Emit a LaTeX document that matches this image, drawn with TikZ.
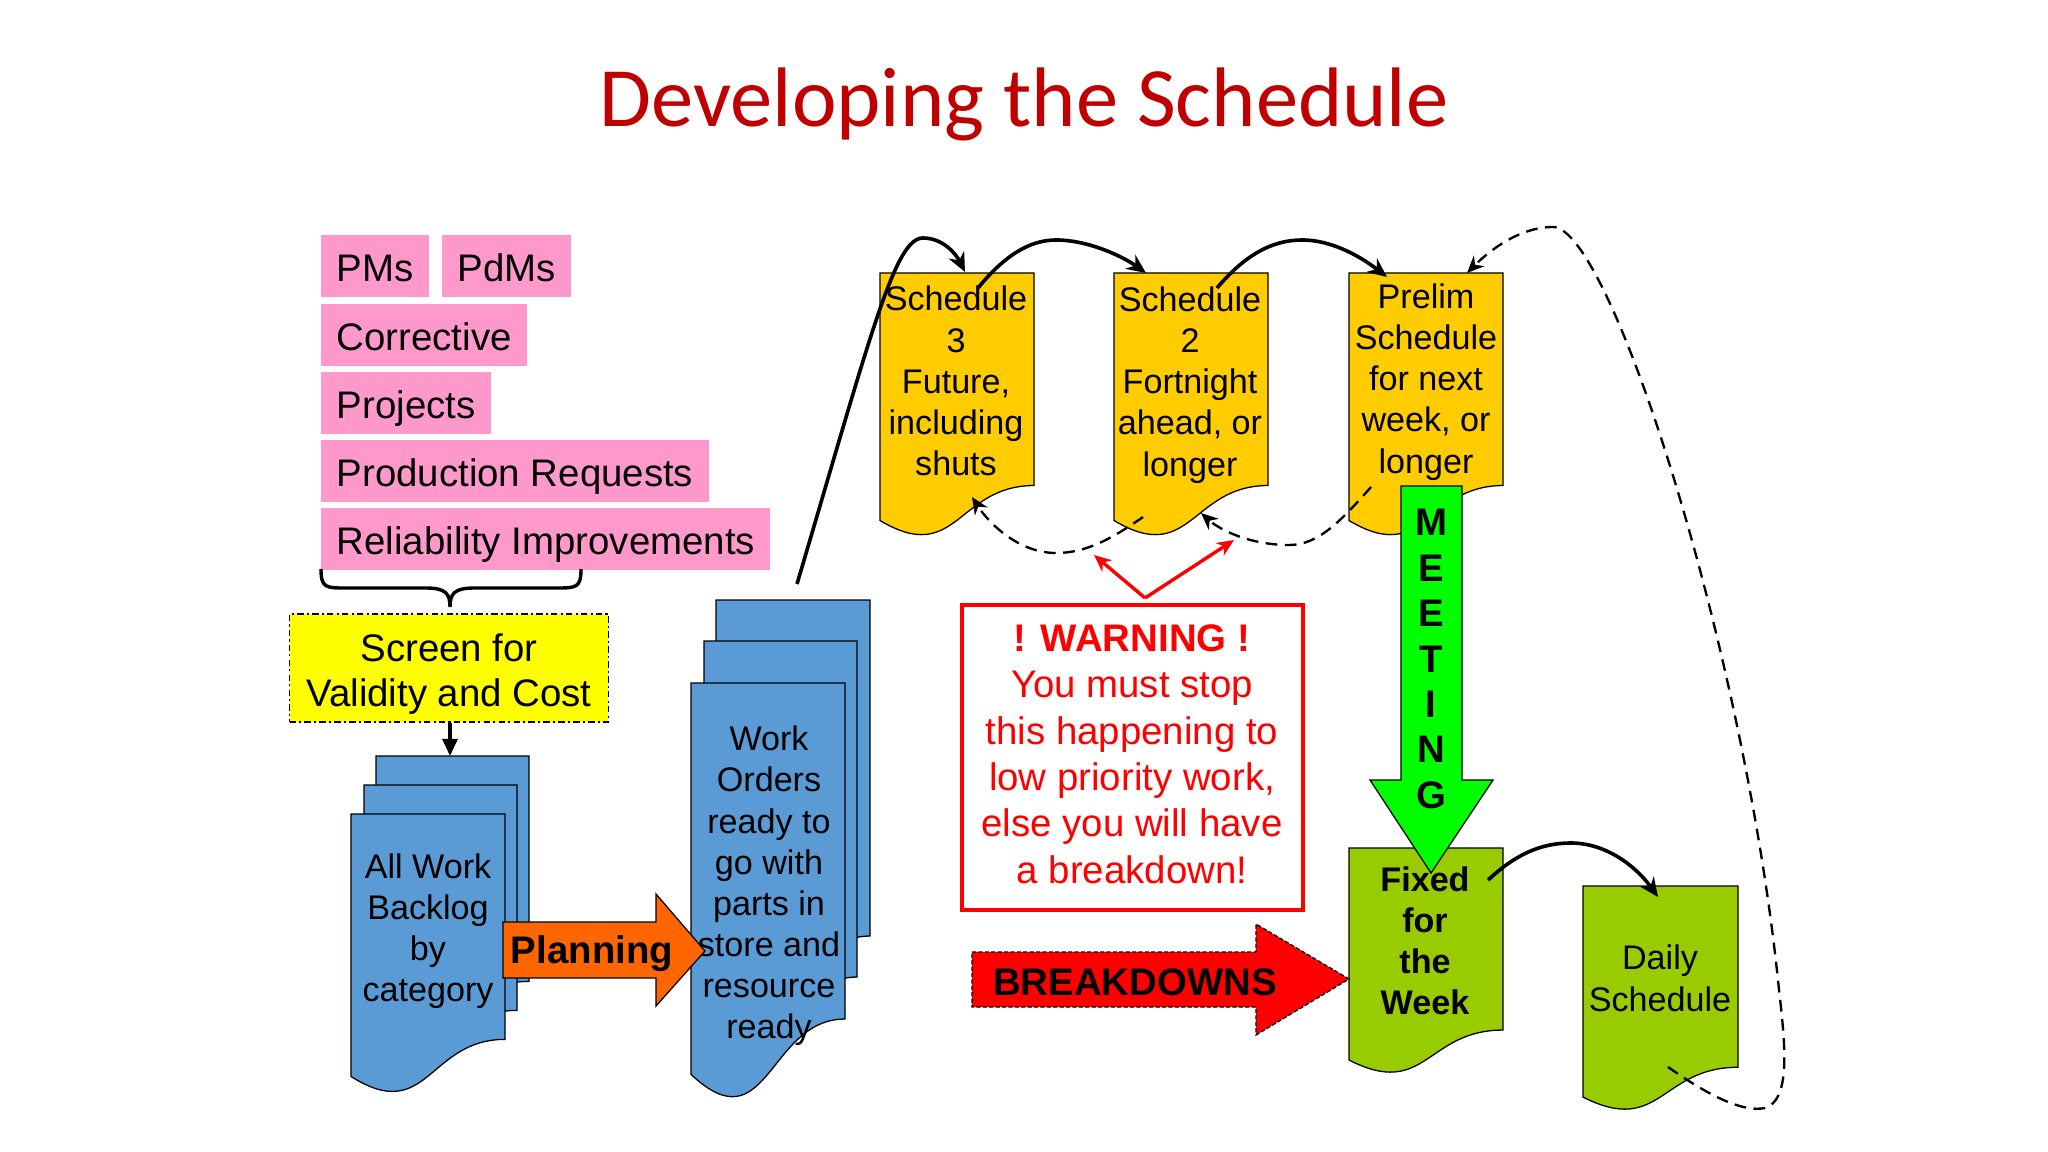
\documentclass[tikz,border=0pt]{standalone}
\usepackage{fontspec}
\setmainfont{Liberation Sans}
\newfontfamily\titlefont{Carlito}
\usetikzlibrary{arrows.meta}
\definecolor{pinkc}{HTML}{FF99CC}
\definecolor{bluec}{HTML}{5B9BD5}
\definecolor{goldc}{HTML}{FFCC00}
\definecolor{limec}{HTML}{99CC00}
\definecolor{meetc}{HTML}{00FF00}
\definecolor{orangec}{HTML}{FF6600}
\definecolor{titlec}{HTML}{C00000}
\definecolor{redc}{HTML}{FF0000}
\definecolor{yellowc}{HTML}{FFFF00}
% document shape: x, y(top), w, h, fill
\newcommand{\docshape}[5]{%
  \filldraw[fill=#5, draw=black, line width=0.6pt]
    (#1,#2) -- ({#1+#3},#2) -- ({#1+#3},{#2+0.802*#4})
    .. controls ({#1+0.5*#3},{#2+0.802*#4}) and ({#1+0.5*#3},{#2+1.1075*#4}) ..
    (#1,{#2+0.934*#4}) -- cycle;}
\begin{document}
\begin{tikzpicture}[x=0.46875pt,y=-0.46875pt,
  pinkbox/.style={fill=pinkc, anchor=north west, inner xsep=7.2pt, inner ysep=0pt,
    text height=17.5pt, text depth=3.5pt,
    minimum height=29pt, font=\fontsize{18}{21}\selectfont},
  doctext/.style={align=center, inner sep=0pt, font=\fontsize{16}{19.3}\selectfont},
  curvearrow/.style={line width=1.7pt, -{Stealth[length=9pt,width=8pt]}},
  dasharrow/.style={line width=1.1pt, dash pattern=on 5.5pt off 3.5pt, -{Stealth[length=8pt,width=7pt]}},
  redarrow/.style={draw=redc, line width=1.6pt, -{Stealth[length=8pt,width=7pt]}},
]
\useasboundingbox (0,0) rectangle (2048,1152);
\fill[white] (0,0) rectangle (2048,1152);

% title
\node[anchor=base, text=titlec, font=\titlefont\fontsize{39.6}{48}\selectfont, inner sep=0pt] (title) at (1024,127) {Developing the Schedule};

% pink boxes
\node[pinkbox] (pms) at (321,235) {PMs};
\node[pinkbox] (pdms) at (442,235) {PdMs};
\node[pinkbox] (corr) at (321,304) {Corrective};
\node[pinkbox] (proj) at (321,372) {Projects};
\node[pinkbox] (prod) at (321,440) {Production Requests};
\node[pinkbox] (rel) at (321,508) {Reliability Improvements};

% brace
\draw[line width=1.6pt] (321,569) .. controls (321,588) and (326,588) .. (346,588) -- (426,588)
  .. controls (446,588) and (450,594) .. (450,607)
  .. controls (450,594) and (454,588) .. (474,588) -- (556,588)
  .. controls (576,588) and (581,588) .. (581,569);

% screen box
\node[draw=black, fill=yellowc, line width=0.7pt, dash pattern=on 3pt off 1.5pt on 1pt off 1.5pt,
  minimum width=149.5pt, minimum height=50.6pt, inner sep=0pt] (screen) at (449,668) {};
\node[align=center, inner sep=0pt, font=\fontsize{18}{21.3}\selectfont] (screentext) at (449,674) {Screen for\\Validity and Cost};

% backlog stack
\docshape{376}{756}{153}{281}{bluec}
\docshape{364}{785}{153}{281}{bluec}
\docshape{351}{814}{154}{281}{bluec}
\coordinate (backlogTop) at (450,756);
\node[doctext] (backlog) at (428,931) {All Work\\Backlog\\by\\category};
\draw[line width=1.5pt, -{Triangle[length=8pt,width=7pt]}] (screen.south -| backlogTop) -- (backlogTop);

% work orders stack
\docshape{716}{600}{154}{419}{bluec}
\docshape{704}{641}{153}{419}{bluec}
\docshape{691}{683}{154}{419}{bluec}
\node[doctext] (wo) at (769,886) {Work\\Orders\\ready to\\go with\\parts in\\store and\\resource\\ready};

% planning arrow
\filldraw[fill=orangec, draw=black, line width=0.6pt] (503,922) -- (656,922) -- (656,894) -- (705,951) -- (656,1006) -- (656,978) -- (503,978) -- cycle;
\node[font=\bfseries\fontsize{18}{21}\selectfont, inner sep=0pt] (planning) at (592,954) {Planning};

% schedule documents
\docshape{880}{273}{154}{265}{goldc}
\docshape{1114}{273}{154}{265}{goldc}
\docshape{1349}{273}{154}{265}{goldc}
\node[doctext] (s3) at (956,381) {Schedule\\3\\Future,\\including\\shuts};
\node[doctext] (s2) at (1190,385) {Schedule\\2\\Fortnight\\ahead, or\\longer};
\node[doctext] (prelim) at (1426,382) {Prelim\\Schedule\\for next\\week, or\\longer};

% connector coordinates
\coordinate (woStart) at (797,584);
\coordinate (s3In) at (965,272);
\coordinate (s3Out) at (978,288);
\coordinate (s2In) at (1146,273);
\coordinate (s2Out) at (1217,288);
\coordinate (prIn) at (1387,277);
\coordinate (prBack) at (1371,487);
\coordinate (s2Back) at (1201,513);
\coordinate (s2BackOut) at (1143,517);
\coordinate (s3Back) at (972,497);
\coordinate (prInR) at (1467,273);

% forward curves
\draw[curvearrow] (woStart) .. controls (872,330) and (895,238) .. (923,238)
  .. controls (943,238) and (956,254) .. (s3In);
\draw[curvearrow] (s3Out) .. controls (1005,255) and (1030,240) .. (1056,240)
  .. controls (1090,240) and (1125,258) .. (s2In);
\draw[curvearrow] (s2Out) .. controls (1245,255) and (1272,240) .. (1302,240)
  .. controls (1335,240) and (1365,260) .. (prIn);

% backward dashed curves
\draw[dasharrow] (prBack) .. controls (1340,522) and (1318,545) .. (1289,545)
  .. controls (1250,545) and (1220,530) .. (s2Back);
\draw[dasharrow] (s2BackOut) .. controls (1110,540) and (1085,553) .. (1056,553)
  .. controls (1020,553) and (990,525) .. (s3Back);

% fixed for the week
\docshape{1349}{848}{154}{227}{limec}

% meeting arrow
\filldraw[fill=meetc, draw=black, line width=0.6pt] (1401,486) -- (1462,486) -- (1462,780) -- (1493,780) -- (1431,873) -- (1370,780) -- (1401,780) -- cycle;
\node[align=center, inner sep=0pt, font=\bfseries\fontsize{18}{21.3}\selectfont] (meeting) at (1431,659) {M\\E\\E\\T\\I\\N\\G};

\node[doctext, font=\bfseries\fontsize{16}{19.3}\selectfont] (fixed) at (1425,941) {Fixed\\for\\the\\Week};

% daily schedule
\docshape{1583}{886}{155}{226}{limec}
\node[doctext, font=\fontsize{16}{19.5}\selectfont] (daily) at (1660,978) {Daily\\Schedule};

\coordinate (fxOut) at (1488,880);
\coordinate (dyIn) at (1658,897);
\coordinate (dyBack) at (1668,1067);
\draw[curvearrow] (fxOut) .. controls (1515,855) and (1540,843) .. (1571,843)
  .. controls (1605,843) and (1635,865) .. (dyIn);

% long dashed return curve
\draw[dasharrow] (dyBack) .. controls (1715,1100) and (1745,1112) .. (1765,1108)
  .. controls (1790,1100) and (1786,1050) .. (1779,990)
  .. controls (1745,650) and (1610,227) .. (1553,227)
  .. controls (1520,227) and (1490,250) .. (prInR);

% warning box
\node[draw=redc, line width=1.6pt, minimum width=159.8pt, minimum height=143pt, inner sep=0pt] (warn) at (1132.5,757.5) {};
\node[align=center, inner sep=0pt, text=redc, font=\fontsize{18}{21.75}\selectfont] (warntext) at (1132,754)
  {\textbf{! WARNING !}\\You must stop\\this happening to\\low priority work,\\else you will have\\a breakdown!};
\coordinate (apex) at (1145,598);
\coordinate (redL) at (1094,555);
\coordinate (redR) at (1234,540);
\draw[redarrow] (apex) -- (redL);
\draw[redarrow] (apex) -- (redR);

% breakdowns arrow
\filldraw[fill=redc, draw=black, line width=0.6pt, dash pattern=on 2pt off 1pt] (972,952) -- (1256,952) -- (1256,924) -- (1349,979) -- (1256,1035) -- (1256,1007) -- (972,1007) -- cycle;
\node[font=\bfseries\fontsize{18}{21}\selectfont, inner sep=0pt] (breakdowns) at (1135,982) {BREAKDOWNS};
\end{tikzpicture}
\end{document}
